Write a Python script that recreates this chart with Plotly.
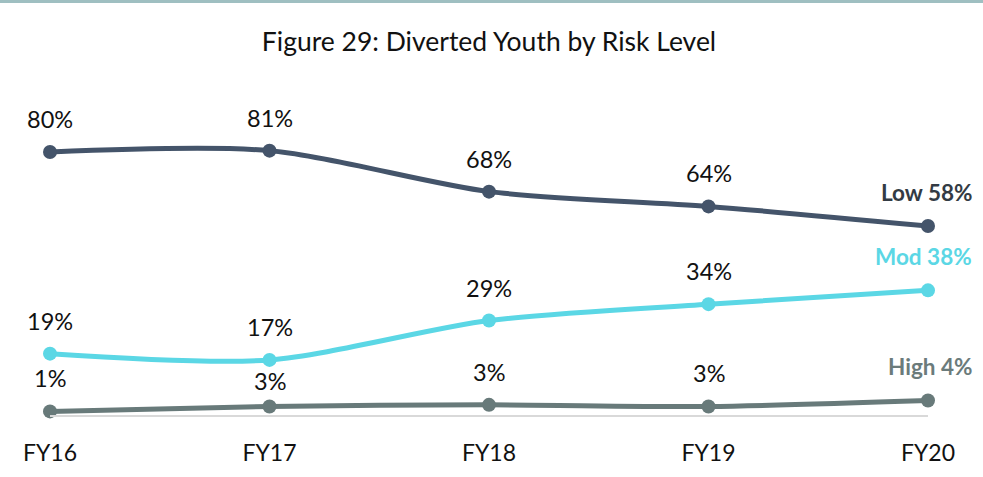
import plotly.graph_objects as go

years = ["FY16", "FY17", "FY18", "FY19", "FY20"]
low = [80.2, 80.6, 68.1, 63.6, 57.6]
mod = [18.7, 16.8, 28.8, 33.8, 38.0]
high = [1.1, 2.6, 3.1, 2.6, 4.4]
series_names = ["Low", "Mod", "High"]

colors = {"Low": "#44546a", "Mod": "#5bd7e5", "High": "#687a7a"}
end_label_colors = {"Low": "#333b44", "Mod": "#5bd7e5", "High": "#6b7b7b"}
FONT = "Lato, Carlito, sans-serif"
# label nudges (pixels) where the source moved a label to avoid overlap
label_shift_override = {("High", 1): 25}

x_idx = list(range(len(years)))
fig = go.Figure()
annotations = []
for name, vals in zip(series_names, [low, mod, high]):
    fig.add_trace(go.Scatter(
        x=x_idx, y=vals, mode="lines+markers", name=name,
        line=dict(color=colors[name], width=5, shape="spline", smoothing=0.8),
        marker=dict(color=colors[name], size=14),
        cliponaxis=False, hoverinfo="skip"))
    for i, v in enumerate(vals[:-1]):
        annotations.append(dict(x=x_idx[i], y=v, text=f"{round(v)}%", showarrow=False,
                                yshift=label_shift_override.get((name, i), 33),
                                font=dict(family=FONT, size=23.5, color="#111111")))
    annotations.append(dict(x=x_idx[-1], y=vals[-1], text=f"<b>{name} {round(vals[-1])}%</b>",
                            showarrow=False, xanchor="right", xshift=46, yshift=34,
                            font=dict(family=FONT, size=22.5, color=end_label_colors[name])))

L, R, T, B = 50, 55, 87, 62
W, H = 983, 477
pw, ph = W - L - R, H - T - B
fig.add_shape(type="line", xref="paper", yref="paper",
              x0=-L / pw, x1=1 + R / pw, y0=(H - B - 1.5) / ph, y1=(H - B - 1.5) / ph,
              line=dict(color="#9fbfc1", width=3))

fig.update_layout(
    width=W, height=H, margin=dict(l=L, r=R, t=T, b=B),
    paper_bgcolor="white", plot_bgcolor="white", showlegend=False,
    title=dict(text="Figure 29: Diverted Youth by Risk Level", x=0.5, xref="paper",
               xanchor="center", y=1 - 42 / H, yanchor="middle",
               font=dict(family=FONT, size=26.5, color="#111111")),
    annotations=annotations,
    xaxis=dict(range=[0, 4], tickvals=x_idx, ticktext=years, showgrid=False, zeroline=False,
               showline=True, linecolor="#d9d9d9", linewidth=2, ticks="", ticklabelstandoff=16,
               tickfont=dict(family=FONT, size=23, color="#111111")),
    yaxis=dict(range=[0, 100], visible=False, showgrid=False, zeroline=False),
)
fig.write_html("out.html", config={"displayModeBar": False},
               post_script="document.body.style.margin='0';document.body.style.overflow='hidden';")
